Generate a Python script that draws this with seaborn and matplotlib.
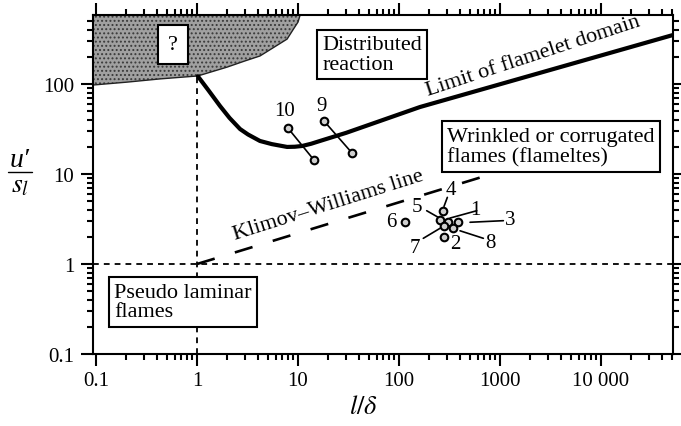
import numpy as np
import pandas as pd
import matplotlib
matplotlib.use("Agg")
import matplotlib.pyplot as plt
import seaborn as sns
from matplotlib.lines import Line2D
from matplotlib.ticker import FixedLocator, FuncFormatter, LogLocator, NullFormatter

# ---------------- data ----------------
# lower boundary of shaded "?" region
shade_x = [0.0934, 0.203, 0.43, 1.02, 1.98, 3.0, 4.2, 6.0, 7.8, 9.0, 10.0, 10.5]
shade_y = [97.5, 105, 114, 123, 154, 181, 205, 263, 316, 407, 488, 585]

# limit of flamelet domain
limit_x = [1.02, 1.3, 1.69, 2.1, 2.67, 3.2, 4.2, 5.5, 7.8, 9.3, 11, 13.5, 16.5, 30, 161, 56000]
limit_y = [122, 85, 57, 42, 31.6, 27.5, 23.3, 21.5, 20.0, 20.1, 20.5, 21.7, 23.3, 28.7, 55.5, 360]

# Klimov-Williams line
kw_x = [1.0, 900]
kw_y = [1.0, 10.3]

# experimental points 1..8
pt_labels = ["1", "2", "3", "4", "5", "6", "7", "8"]
pt_x = [308, 281, 387, 271, 255, 115, 279, 340]
pt_y = [2.95, 2.01, 2.9, 3.91, 3.1, 2.9, 2.67, 2.51]
pt_lab_x = [572, 358, 1256, 324, 150, 83, 144, 796]
pt_lab_y = [4.08, 1.67, 3.1, 6.8, 4.35, 2.97, 1.53, 1.74]
# leader lines (label end, point end) for labelled points
lead_id = ["1", "3", "4", "5", "7", "8"]
lead_x0 = [588, 1079, 301, 188, 174, 684]
lead_y0 = [3.91, 3.03, 5.5, 3.91, 1.93, 1.93]
lead_x1 = [320, 505, 279, 245, 265, 402]
lead_y1 = [3.24, 2.91, 4.37, 3.30, 2.56, 2.34]

# pairs 9 and 10
pair_id = ["9", "9", "10", "10"]
pair_x = [18.1, 34.3, 7.95, 14.4]
pair_y = [38.8, 17.1, 32.4, 14.3]
pair_lab_x = [17.2, 7.3]
pair_lab_y = [58.4, 50.5]

x_ticks = [0.1, 1, 10, 100, 1000, 10000]
y_ticks = [0.1, 1, 10, 100]

# ---------------- style ----------------
sns.set_theme(style="ticks")
plt.rcParams["font.family"] = ["Liberation Serif", "DejaVu Serif"]
plt.rcParams["mathtext.fontset"] = "stix"
plt.rcParams["text.color"] = "black"
plt.rcParams["hatch.linewidth"] = 0.9

W, H = 681, 427
fig = plt.figure(figsize=(W / 100, H / 100), dpi=100)
ax = fig.add_axes([93 / W, 1 - 355 / H, (673 - 93) / W, (355 - 16) / H])
ax.set_xscale("log")
ax.set_yscale("log")
XMIN, XMAX, YMIN, YMAX = 0.0934, 51600, 0.1, 585
ax.set_xlim(XMIN, XMAX)
ax.set_ylim(YMIN, YMAX)

# shaded region
ax.fill_between(shade_x, shade_y, YMAX, facecolor="#a0a0a0", edgecolor="#3a3a3a",
                hatch="....", linewidth=0, zorder=1)
ax.plot(shade_x, shade_y, color="#222222", lw=1.0, zorder=2)

# dashed reference lines
ax.axhline(1, color="black", lw=1.3, ls=(0, (3.2, 2.8)), zorder=2)
ax.plot([1, 1], [YMIN, limit_y[0]], color="black", lw=1.3, ls=(0, (3.2, 2.8)), zorder=2)

# Klimov-Williams line
sns.lineplot(x=kw_x, y=kw_y, ax=ax, color="black", lw=1.9, zorder=2)
ax.lines[-1].set_dashes((7, 8))

# limit of flamelet domain
sns.lineplot(x=limit_x, y=limit_y, ax=ax, color="black", lw=3.0, sort=False,
             estimator=None, zorder=3)

# pairs 9 and 10
pairs = pd.DataFrame({"id": pair_id, "x": pair_x, "y": pair_y})
sns.lineplot(data=pairs, x="x", y="y", units="id", estimator=None, sort=False,
             ax=ax, color="black", lw=1.2, zorder=4)
sns.scatterplot(data=pairs, x="x", y="y", ax=ax, s=30, color="#cfcfcf",
                edgecolor="black", linewidth=1.5, zorder=6)
for lab, lx, ly in zip(["9", "10"], pair_lab_x, pair_lab_y):
    ax.text(lx, ly, lab, fontsize=15, ha="center", va="center", zorder=7)

# leader lines
for x0, y0, x1, y1 in zip(lead_x0, lead_y0, lead_x1, lead_y1):
    ax.plot([x0, x1], [y0, y1], color="black", lw=1.2, zorder=4)

# experimental points
sns.scatterplot(x=pt_x, y=pt_y, ax=ax, s=30, color="#cfcfcf", edgecolor="black",
                linewidth=1.5, zorder=6)
for lab, lx, ly in zip(pt_labels, pt_lab_x, pt_lab_y):
    ax.text(lx, ly, lab, fontsize=15, ha="center", va="center", zorder=7)

# boxes
box = dict(boxstyle="square,pad=0.25", fc="white", ec="black", lw=1.5)
ax.text(0.578, 278, "?", fontsize=16, ha="center", va="center", zorder=8,
        bbox=dict(boxstyle="square,pad=0.45", fc="white", ec="black", lw=1.5))
ax.text(54, 213, "Distributed\nreaction", fontsize=16, ha="center", va="center",
        multialignment="left", linespacing=1.05, bbox=box, zorder=8)
ax.text(3200, 20.2, "Wrinkled or corrugated\nflames (flameltes)", fontsize=16,
        ha="center", va="center", multialignment="left", linespacing=1.05,
        bbox=box, zorder=8)
ax.text(0.727, 0.378, "Pseudo laminar\nflames", fontsize=16, ha="center",
        va="center", multialignment="left", linespacing=1.05, bbox=box, zorder=8)

# rotated line labels
ax.text(2150, 205, "Limit of flamelet domain", fontsize=16, rotation=18.2,
        rotation_mode="anchor", ha="center", va="center", zorder=8)
ax.text(19.8, 4.5, "Klimov\u2013Williams line", fontsize=16, rotation=17.5,
        rotation_mode="anchor", ha="center", va="center", zorder=8)

# axes / ticks
def fmt(v, _):
    if v < 1:
        return f"{v:g}"
    s = f"{int(round(v)):d}"
    if v >= 10000:
        s = s[:-3] + " " + s[-3:]
    return s

ax.xaxis.set_major_locator(FixedLocator(x_ticks))
ax.yaxis.set_major_locator(FixedLocator(y_ticks))
ax.xaxis.set_major_formatter(FuncFormatter(fmt))
ax.yaxis.set_major_formatter(FuncFormatter(fmt))
ax.xaxis.set_minor_locator(LogLocator(base=10, subs=range(2, 10), numticks=20))
ax.yaxis.set_minor_locator(LogLocator(base=10, subs=range(2, 10), numticks=20))
ax.xaxis.set_minor_formatter(NullFormatter())
ax.yaxis.set_minor_formatter(NullFormatter())
ax.tick_params(which="both", direction="out", top=True, right=True, width=1.5,
               colors="black", labelsize=15)
ax.tick_params(which="major", length=8.5)
ax.tick_params(which="minor", length=4.3)
ax.tick_params(axis="x", pad=4)
ax.tick_params(axis="y", pad=5)
for sp in ax.spines.values():
    sp.set_linewidth(1.5)
    sp.set_color("black")
ax.set_xlabel("")
ax.set_ylabel("")

# axis labels
fig.text(363 / W, 1 - 408 / H, r"$l/\delta$", fontsize=19, ha="center", va="center")
fig.text(20 / W, 1 - 161 / H, "u\u2032", fontsize=20, style="italic",
         ha="center", va="center")
fig.add_artist(Line2D([8 / W, 32 / W], [1 - 173 / H, 1 - 173 / H],
                      color="black", lw=1.0, transform=fig.transFigure))
fig.text(20 / W, 1 - 186 / H, r"$s_l$", fontsize=20, ha="center", va="center")

fig.savefig("out.png", dpi=100, facecolor="white")
